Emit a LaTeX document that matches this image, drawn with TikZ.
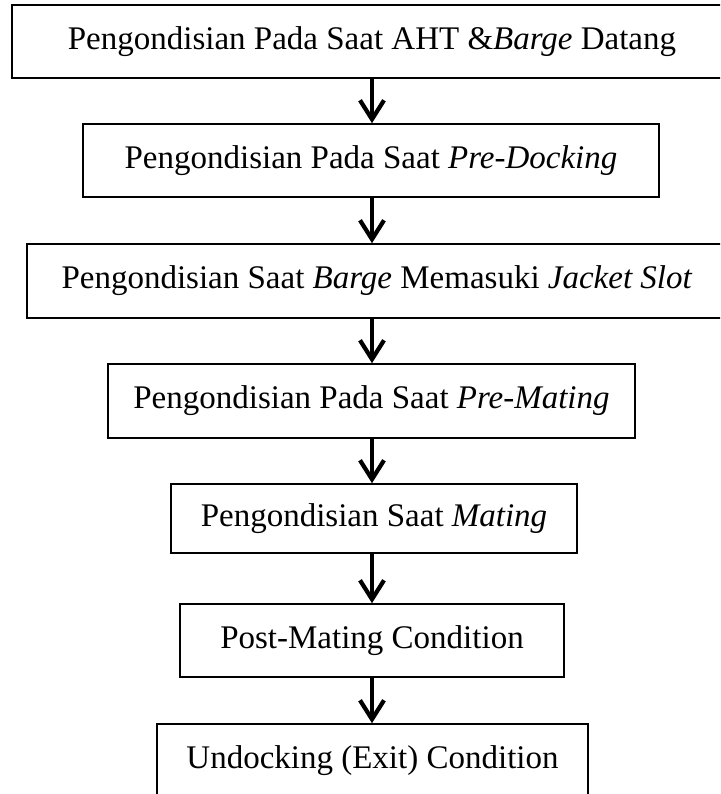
\documentclass[tikz,border=0pt]{standalone}
\usepackage{fontspec}
\setmainfont{Liberation Serif}
\usetikzlibrary{arrows.meta}
\begin{document}
\begin{tikzpicture}[x=1pt,y=-1pt,
  stepbox/.style={draw=black,line width=1.6pt,fill=white,inner sep=0pt,
    minimum height=73pt,font=\fontsize{33}{38}\selectfont,anchor=center},
  flow/.style={line width=4.6pt,
    -{Straight Barb[length=19pt,width=24pt,line width=4.2pt]}}]
  \useasboundingbox (0,0) rectangle (720,794);
  \begin{scope}
  \clip (0,0) rectangle (720,794);
  \coordinate (spine) at (372,0);
  \node[stepbox,minimum width=720pt] (b1) at (372,41.5)
    {Pengondisian Pada Saat AHT \&\textit{Barge} Datang};
  \node[stepbox,minimum width=576pt] (b2) at (371,160.5)
    {Pengondisian Pada Saat \textit{Pre-Docking}};
  \node[stepbox,minimum width=700pt,minimum height=74pt] (b3) at (377,281)
    {Pengondisian Saat \textit{Barge} Memasuki \textit{Jacket Slot}};
  \node[stepbox,minimum width=527pt,minimum height=74pt] (b4) at (371.5,401)
    {Pengondisian Pada Saat \textit{Pre-Mating}};
  \node[stepbox,minimum width=406pt,minimum height=69pt] (b5) at (374,518.5)
    {Pengondisian Saat \textit{Mating}};
  \node[stepbox,minimum width=384pt] (b6) at (372,640.5)
    {Post-Mating Condition};
  \node[stepbox,minimum width=431pt] (b7) at (372.5,760.5)
    {Undocking (Exit) Condition};
  \foreach \a/\b in {b1/b2,b2/b3,b3/b4,b4/b5,b5/b6,b6/b7}
    \draw[flow] (\a.south -| spine) -- (\b.north -| spine);
  \end{scope}
\end{tikzpicture}
\end{document}
